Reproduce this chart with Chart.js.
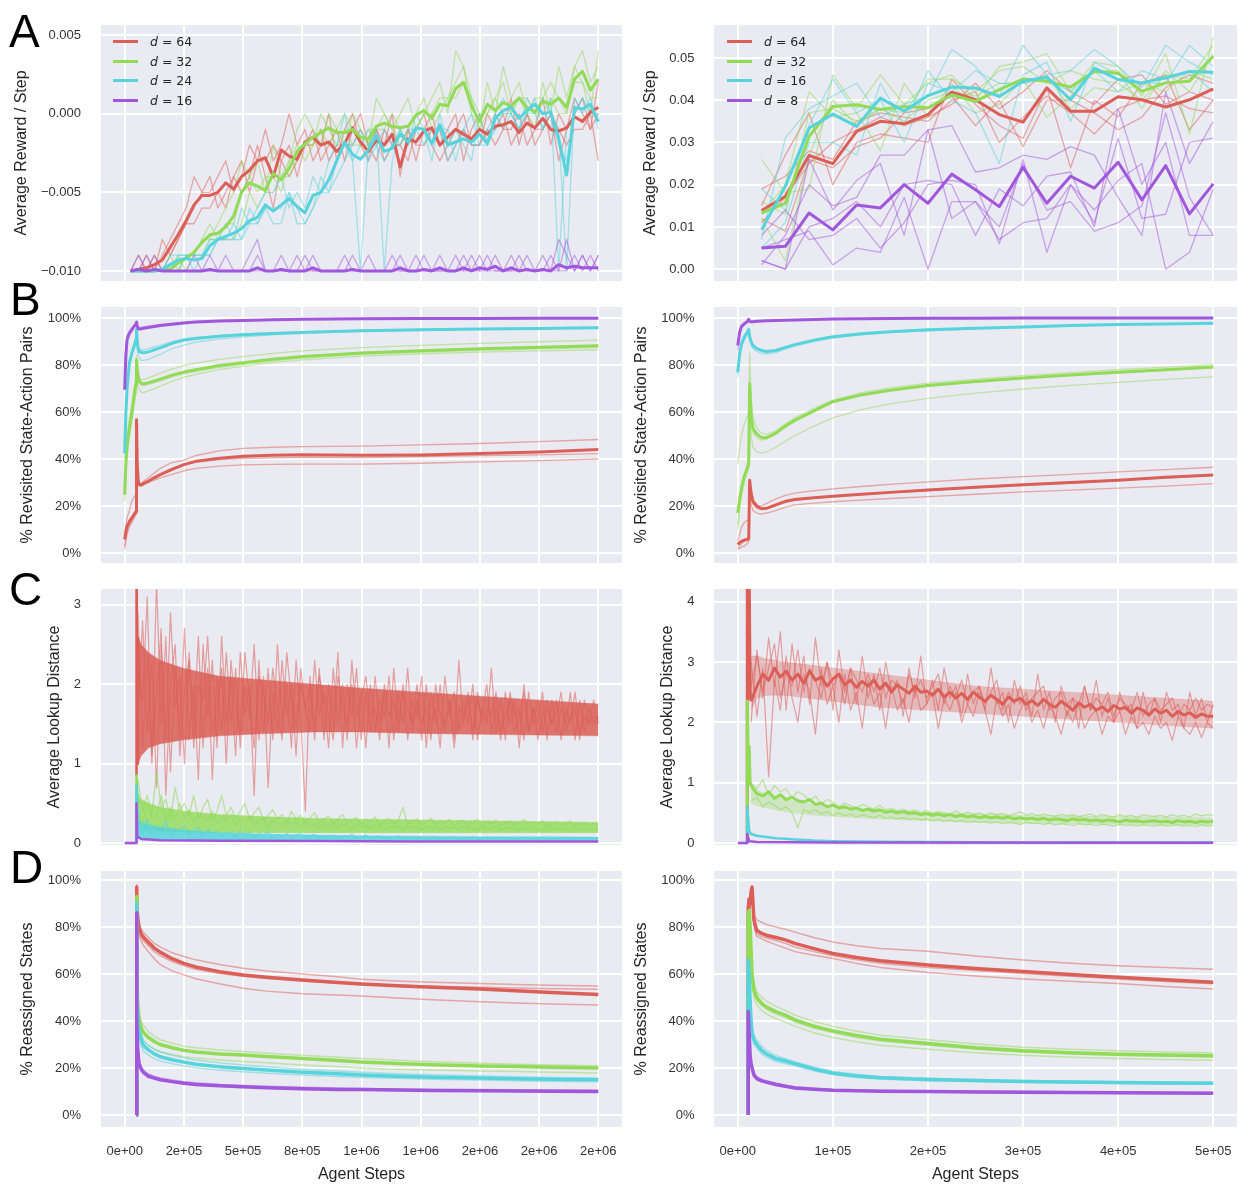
<!DOCTYPE html>
<html>
<head>
<meta charset="utf-8">
<script src="https://cdn.jsdelivr.net/npm/chart.js@4.4.0/dist/chart.umd.min.js"></script>
<style>
  body { margin: 0; background: #fff; }
  #fig { position: relative; width: 1239px; height: 1184px; overflow: hidden; font-family: 'Liberation Sans', Arial, sans-serif; }
  #fig canvas { position: absolute; }
  .letter { position: absolute; font-size: 46px; line-height: 46px; color: #000; z-index: 5; }
  .legend { position: absolute; font-family: 'DejaVu Sans', sans-serif; font-size: 12.5px; color: #262626; z-index: 5; }
  .legend div { position: relative; height: 19.6px; line-height: 19.6px; padding-left: 37px; white-space: nowrap; }
  .legend .sw { position: absolute; left: 0; top: 8.3px; width: 25px; height: 3px; }
</style>
</head>
<body>
<div id="fig">
  <div class="letter" style="left:9px;top:8px">A</div>
  <div class="letter" style="left:10px;top:276px">B</div>
  <div class="letter" style="left:9px;top:566px">C</div>
  <div class="letter" style="left:10px;top:844px">D</div>
  <div class="legend" id="legendL" style="left:113px;top:32px"></div>
  <div class="legend" id="legendR" style="left:727px;top:32px"></div>
</div>
<script>
const RED = '#db5f57', GREEN = '#91db57', CYAN = '#57d3db', PURPLE = '#a157db';

// legend labels
const dimsLeft  = [64, 32, 24, 16];
const dimsRight = [64, 32, 16, 8];

// tick values + labels
const xTicksLeft   = [0, 250000, 500000, 750000, 1000000, 1250000, 1500000, 1750000, 2000000];
const xLabelsLeft  = ['0e+00', '2e+05', '5e+05', '8e+05', '1e+06', '1e+06', '2e+06', '2e+06', '2e+06'];
const xTicksRight  = [0, 100000, 200000, 300000, 400000, 500000];
const xLabelsRight = ['0e+00', '1e+05', '2e+05', '3e+05', '4e+05', '5e+05'];
const yTicksRewL   = [-10, -5, 0, 5];            // thousandths
const yLabelsRewL  = ['\u22120.010', '\u22120.005', '0.000', '0.005'];
const yTicksRewR   = [0, 10, 20, 30, 40, 50];    // thousandths
const yLabelsRewR  = ['0.00', '0.01', '0.02', '0.03', '0.04', '0.05'];
const yTicksPct    = [0, 20, 40, 60, 80, 100];
const yLabelsPct   = ['0%', '20%', '40%', '60%', '80%', '100%'];
const yTicksDistL  = [0, 1, 2, 3];
const yLabelsDistL = ['0', '1', '2', '3'];
const yTicksDistR  = [0, 1, 2, 3, 4];
const yLabelsDistR = ['0', '1', '2', '3', '4'];

function linspace(a, b, n) { return Array.from({ length: n }, (_, i) => a + (b - a) * i / (n - 1)); }

// ---------- A left: average reward / step (x0.001), logged every ~33k steps
const aLeftSteps = linspace(25000, 2000000, 60);
const aLRed = [-10,-9.9,-9.8,-9.6,-9.3,-8.5,-7.7,-6.8,-5.8,-5.2,
  -5.2,-5.0,-4.4,-4.8,-4.0,-3.6,-3.0,-2.8,-4.0,-2.3,
  -2.7,-2.9,-1.8,-1.5,-2.0,-1.8,-2.4,-1.9,-0.9,-1.8,
  -2.4,-1.7,-2.0,-1.3,-3.4,-1.6,-1.8,-1.1,-0.9,-2.0,
  -1.5,-1.0,-1.3,-1.6,-1.0,-1.3,-0.8,-0.7,-0.5,-1.2,
  -0.6,-0.9,-0.3,-1.0,-1.1,-0.9,-0.2,-0.5,0.1,0.4];
const aLGreen = [-10,-10,-10,-10,-9.9,-9.9,-9.5,-9.2,-8.8,-8.2,
  -7.7,-7.6,-7.2,-6.5,-5.0,-4.4,-4.6,-4.9,-3.8,-4.2,
  -3.5,-2.4,-1.9,-1.5,-1.2,-0.9,-1.2,-1.2,-1.0,-1.5,
  -1.6,-0.8,-0.6,-0.8,-0.9,-0.8,-0.1,0.2,-0.3,0.6,
  0.5,1.6,2.0,0.5,-0.5,0.6,0.2,0.7,0.5,1.0,
  0.4,0.1,0.8,0.6,1.0,0.4,2.2,2.7,1.5,2.2];
const aLCyan = [-10,-10,-10,-10,-9.9,-9.6,-9.3,-9.2,-9.3,-9.2,
  -8.4,-8.0,-7.8,-7.6,-7.3,-6.8,-6.6,-5.8,-6.2,-5.8,
  -5.4,-5.9,-6.3,-5.2,-5.0,-4.2,-3.0,-1.8,-2.6,-2.9,
  -2.3,-1.4,-2.4,-2.2,-1.3,-1.8,-0.9,-1.0,-1.9,-0.7,
  -2.0,-1.8,-1.6,-1.8,-1.3,-1.9,-0.3,0.2,0.4,-0.3,
  0.2,0.6,0.0,0.1,-1.6,-3.9,0.4,0.3,0.6,-0.5];
const aLPurple = [-10,-9.9,-10,-9.9,-10,-10,-10,-10,-10,-10,
  -9.9,-10,-10,-10,-10,-10,-9.8,-10,-10,-9.9,
  -10,-10,-10,-9.8,-10,-10,-10,-10,-9.9,-10,
  -10,-10,-10,-10,-9.8,-10,-10,-9.9,-10,-9.8,
  -10,-10,-9.8,-10,-9.8,-9.9,-9.7,-10,-9.8,-10,
  -9.9,-10,-9.9,-10,-9.6,-9.8,-9.7,-9.8,-9.8,-9.8];
const aLRedRuns = [
  [-10,-10,-9,-10,-9,-8,-7,-6,-4,-5, -5,-4,-3,-5,-4,-2,-3,-1,-3,-2, 0,-2,-1,-3,-2,0,-3,-1,0,-2,
   -3,-1,-2,0,-4,-1,-3,-1,0,-2, -1,0,-3,-1,0,-2,0,-1,1,-2, 0,-1,1,-2,0,-1,0,1,-1,2],
  [-10,-9,-10,-10,-8,-9,-8,-7,-7,-6, -6,-5,-6,-4,-5,-4,-2,-4,-6,-3, -2,-4,-2,-1,-3,-2,-1,-3,-1,0,
   -2,-3,-1,-2,-2,-3,-1,0,-2,-3, -2,-1,0,-2,-2,0,-1,0,-2,-1, 0,-2,-1,0,-3,-1,1,0,-1,0],
  [-10,-10,-10,-9,-10,-9,-8,-7,-6,-5, -4,-6,-5,-4,-3,-5,-3,-3,-2,-3, -4,-3,-2,-2,-1,-3,-2,-2,-2,-1,
   -2,-1,-3,-2,-2,-1,-2,-2,-1,-1, -3,-2,-1,-2,-2,-1,-2,-1,-1,0, -2,-1,-1,0,-1,-2,-1,-1,0,-3]];
const aLGreenRuns = [
  [-10,-10,-10,-10,-10,-10,-9,-10,-9,-8, -8,-7,-6,-5,-3,-4,-3,-5,-2,-4, -3,-1,0,-1,-2,0,-1,-2,0,-1,
   -2,1,0,-1,0,1,-1,0,1,2, 0,4,3,0,-1,2,0,3,1,2, 0,-1,2,0,3,1,3,4,2,3],
  [-10,-10,-10,-10,-10,-9,-10,-9,-9,-9, -8,-8,-8,-8,-7,-5,-6,-5,-5,-4, -4,-3,-2,-2,0,-1,-2,-1,-2,-2,
   -1,-1,0,-1,-2,-1,0,1,-1,0, 1,1,2,1,0,0,1,0,0,1, 1,0,0,1,0,0,2,2,1,1],
  [-10,-10,-10,-10,-10,-10,-10,-9,-9,-8, -7,-8,-7,-7,-5,-4,-5,-4,-4,-5, -3,-2,-3,-2,-1,-2,-1,0,-1,-2,
   -2,-1,-1,0,-1,-2,-1,0,0,1, 1,2,3,1,-1,0,1,2,0,1, 0,1,1,2,1,0,3,2,0,4]];
const aLCyanRuns = [
  [-10,-10,-10,-10,-10,-9,-9,-9,-10,-9, -8,-8,-7,-8,-6,-7,-6,-5,-5,-4, -6,-5,-6,-4,-5,-3,-2,0,-3,-10,
   -2,-1,-10,-3,-1,-2,0,-1,-3,0, -2,-1,-2,-3,0,-2,0,1,0,-1, 1,0,1,0,-1,-10,1,0,1,-1],
  [-10,-10,-10,-10,-10,-10,-9,-9,-9,-9, -9,-8,-8,-8,-8,-6,-7,-6,-7,-7, -5,-7,-7,-6,-4,-5,-4,-3,-2,-1,
   -3,-2,-1,-2,-2,-1,-1,-2,-1,-1, -3,-2,-1,0,-2,-2,-1,0,0,-1, 0,1,-1,0,-2,-3,0,1,0,0],
  [-10,-10,-10,-10,-10,-10,-10,-9,-9,-9, -9,-8,-8,-7,-8,-7,-7,-6,-6,-6, -5,-6,-7,-6,-5,-5,-3,-2,-3,-2,
   -1,-2,-3,-2,-1,-2,-1,-1,-2,-1, -1,-3,-1,-2,-2,-1,0,-1,0,-1, 0,0,-1,1,-10,-1,0,1,0,0]];
const aLPurpleRuns = [
  [-10,-9,-10,-9,-10,-10,-10,-10,-10,-10, -9,-10,-10,-10,-10,-10,-9,-10,-10,-10, -10,-10,-10,-9,-10,-10,-10,-10,-9,-10,
   -10,-10,-10,-10,-9,-10,-10,-10,-10,-9, -10,-10,-9,-10,-10,-9,-10,-10,-9,-10, -10,-10,-9,-10,-8,-9,-10,-9,-10,-9],
  [-10,-10,-9,-10,-10,-10,-10,-10,-9,-10, -10,-10,-10,-10,-10,-9,-8,-10,-10,-9, -10,-10,-9,-10,-10,-10,-10,-10,-10,-10,
   -9,-10,-10,-10,-10,-10,-10,-9,-10,-10, -10,-10,-10,-9,-10,-10,-9,-10,-10,-10, -9,-10,-10,-9,-10,-10,-9,-10,-9,-10],
  [-10,-10,-10,-10,-10,-10,-10,-10,-10,-10, -10,-10,-9,-10,-10,-10,-10,-10,-10,-10, -10,-9,-10,-10,-10,-10,-10,-9,-10,-10,
   -10,-10,-10,-9,-10,-10,-9,-10,-10,-10, -10,-9,-10,-10,-9,-10,-10,-10,-10,-9, -10,-10,-10,-10,-10,-8,-10,-9,-10,-9]];

// ---------- A right: average reward / step (x0.001), every 25k steps
const aRightSteps = linspace(25000, 500000, 20);
const aRRed    = [13.9,17.2,26.9,25.0,32.6,35.0,34.4,36.6,41.9,40.1, 36.6,34.8,42.9,37.4,37.4,40.8,40.1,38.4,40.1,42.7];
const aRGreen  = [13.3,15.6,31.4,38.5,38.9,37.8,38.5,38.2,41.3,39.7, 42.5,45.0,44.5,43.1,46.8,46.4,42.1,44.1,44.5,50.4];
const aRCyan   = [9.3,19.6,33.4,36.7,33.8,40.5,37.4,41.1,43.1,42.9, 40.9,44.5,45.5,40.1,47.6,44.9,44.1,45.3,46.8,46.6];
const aRPurple = [5.0,5.4,13.3,9.3,15.2,14.5,20.0,15.6,22.5,18.8, 14.8,24.1,15.6,22.0,19.2,25.3,16.4,24.5,13.1,20.2];
const aRRedRuns = [
  [15,27,37,20,30,32,31,30,45,39, 34,31,43,24,40,36,44,46,33,40],
  [19,22,28,26,35,37,36,35,40,42, 30,36,41,37,32,38,40,41,38,37],
  [12,9,26,24,29,31,37,38,41,34, 40,29,40,40,37,33,36,43,46,44],
  [11,17,25,30,33,36,34,36,39,44, 38,42,47,42,39,45,46,39,42,40]];
const aRGreenRuns = [
  [26,18,19,46,38,46,39,44,46,40, 48,49,51,42,49,48,41,51,32,55],
  [12,2,27,40,34,38,37,45,45,42, 47,48,44,47,45,44,40,46,45,53],
  [13,20,42,36,37,28,44,36,44,37, 39,45,36,41,47,47,38,47,42,51],
  [16,13,37,38,35,38,35,40,42,41, 44,44,46,38,43,42,44,42,47,45]];
const aRCyanRuns = [
  [7,31,38,41,44,36,39,41,52,48, 41,53,46,47,52,48,43,53,49,46],
  [5,11,30,30,27,44,34,47,40,37, 25,46,49,35,49,46,44,44,53,48],
  [19,14,34,45,37,40,30,44,42,47, 44,44,45,42,47,42,47,45,47,42]];
const aRPurpleRuns = [
  [2,0,26,14,21,25,8,33,34,23, 24,27,26,29,27,17,8,42,25,35],
  [8,14,7,8,12,5,11,20,21,20, 6,26,4,20,14,21,25,0,4,19],
  [1,8,20,15,17,27,27,33,12,16, 10,25,14,16,9,11,15,37,17,8],
  [5,7,9,1,5,4,17,0,16,16, 7,11,12,20,11,31,12,13,30,31],
  [2,0,10,12,16,10,20,21,20,8, 19,15,22,23,10,38,20,30,8,8]];

// ---------- B left: % revisited state-action pairs
const bLeftSteps = [0,5000,10000,20000,30000,40000,48000,50000,53000,57000,62000,70000,80000,100000,
  125000,150000,200000,250000,300000,400000,500000,625000,750000,1000000,1250000,1500000,1750000,2000000];
const bLRed    = [5.7,9,11.3,13.5,14.9,16.5,17.7,56.7,38,31,29,29,29.6,30.5,32,33.3,35.6,37.6,39,40.3,41.2,41.6,41.8,41.6,41.7,42.3,43,44];
const bLGreen  = [24.8,38,45.4,53,59.6,67,72,82.3,78,75,73.2,72.2,72,72.4,73.2,74,75.7,77,78,79.8,81,82.5,83.6,85.1,86.1,86.9,87.6,88.2];
const bLCyan   = [42.5,59.6,70,80.9,85,88,91,95,90,87,85.8,85.3,85.2,85.6,86.5,87.3,89.2,90.6,91.3,92.2,92.9,93.4,93.9,94.6,95,95.3,95.6,95.9];
const bLPurple = [69.5,84,90.8,93.5,95,96.5,97.5,98.3,96.5,95.5,95.3,95.4,95.6,96,96.4,96.8,97.4,97.9,98.3,98.7,99,99.3,99.5,99.7,99.8,99.85,99.9,99.9];
const bLRedRuns = [
  [3,7,10,12,14,15.5,17,50,35,30.5,29,29.5,30.5,32,34,36,38.5,39.5,41.5,43.5,44.5,45,45.3,45.5,46,46.6,47.4,48.3],
  [1.5,5,8,11,13,15,16.5,45,33,29.5,28.5,28.5,29,30,31,32,33.5,35,36,37,37.5,37.7,37.8,37.8,38.2,38.8,39.3,40],
  [8,12,15,18,22,24,25,55,36,30,29,29.3,30,31,32.5,33.8,36,37.5,38.7,39.8,40.2,40.5,40.7,40.6,41,41.4,41.8,42.3]];
const bLGreenRuns = [
  [22,33,42,50,56,63,68,79,74,71,69.5,68.5,68.3,69,70,71,73,74.8,76,78,79.5,81,82.2,83.8,84.8,85.5,86,86.5],
  [28,42,50,57,63,70,75,84,79,76,74.5,73.8,73.8,74.5,75.5,76.5,78.3,79.8,80.8,82.4,83.6,85,86,87.4,88.4,89.2,89.9,90.6],
  [25,36,44,52,58,66,71,81,77,74,72.5,71.5,71.2,71.7,72.5,73.3,75,76.2,77.3,79,80.3,81.8,83,84.5,85.5,86.3,86.9,87.5]];
const bLCyanRuns = [
  [40,55,68,80,84,87,90,93,87,84,83,82,82,82.5,83.5,84.5,87,88.5,89.8,91,92,92.8,93.4,94.3,94.8,95.2,95.5,95.8],
  [45,62,72,82,86,89,92,96,91,88,87,86.5,86.5,87,87.8,88.4,90,91.2,91.8,92.6,93.2,93.7,94.2,94.8,95.2,95.5,95.8,96.1]];
const bLPurpleRuns = [
  [75,88,92.5,94.5,95.8,97,97.8,98.5,97,96.2,96,96.1,96.3,96.6,96.9,97.2,97.7,98.1,98.5,98.9,99.1,99.4,99.6,99.75,99.85,99.9,99.9,99.95]];

// ---------- B right
const bRightSteps = [0,2000,4000,7000,10000,11500,12500,14000,16000,20000,25000,30000,40000,50000,60000,80000,
  100000,130000,160000,200000,250000,300000,350000,400000,450000,500000];
const bRRed    = [3.6,4.5,5,5.5,5.7,6,31,25.6,22,20,18.8,19,20.5,22,22.8,23.5,24.2,25,25.8,26.8,28,29,30,31,32.2,33.2];
const bRGreen  = [17,23,28,33,36,38,72,58,53,50.6,49.1,49,51,54,56.5,60.5,64.5,67.3,69.3,71.3,73,74.5,75.8,76.9,78,79.2];
const bRCyan   = [76.9,85,89,92,94,95.2,92,90,88.3,87,86.2,85.8,86.2,87.5,88.7,90.6,92,93.3,94.2,95,95.7,96.2,96.8,97.2,97.5,97.8];
const bRPurple = [88.3,94,96.5,97.6,98.5,99.4,98.6,98.4,98.4,98.6,98.7,98.8,99,99.1,99.2,99.4,99.6,99.7,99.8,99.9,99.95,100,100,100,100,100];
const bRRedRuns = [
  [2,3,4,5,6,7,28,24,21,20,20,21,23,24.5,25.5,26.5,27.3,28.3,29.2,30.3,31.5,32.5,33.5,34.5,35.5,36.5],
  [1.5,2,2.5,3,4,5,25,21,18,17,16.5,17,18,19.5,20.5,21.2,21.8,22.5,23.2,24,25,26,26.8,27.6,28.5,29.5],
  [5,8,11,13,14,14,30,24,21,19,18.5,18.8,20,21.5,22.5,23.3,24,24.8,25.6,26.6,27.8,28.8,29.8,30.8,32,33]];
const bRGreenRuns = [
  [10,20,26,33,38,42,60,50,45,43,42.5,43,45,47.5,50,54,57.5,61,63.5,65.8,68,69.8,71.3,72.6,73.9,75],
  [38,45,50,55,58,60,85,66,58,53,51,50.5,52,55,57.5,61.5,65,68.3,70.3,72.3,74,75.5,76.8,78,79.1,80.2],
  [12,20,25,30,34,36,70,56,51,49,48,48.5,50.5,53.5,56,60,64,67,69,71,72.8,74.3,75.6,76.7,77.8,78.8]];
const bRCyanRuns = [
  [75,84,88,91,93,94,91,88.5,87,85.8,85,84.8,85.3,86.8,88,90,91.5,92.8,93.8,94.6,95.4,96,96.6,97,97.4,97.7]];
const bRPurpleRuns = [
  [86,93,96,97.2,98.2,99,98.3,98.2,98.2,98.4,98.5,98.7,98.9,99,99.1,99.3,99.5,99.6,99.7,99.8,99.9,99.95,100,100,100,100]];

// ---------- C left: average lookup distance
const cLeftBandSteps = [56000,70000,100000,150000,250000,400000,600000,800000,1000000,1250000,1500000,1750000,2000000];
const cLRedHi    = [2.6,2.5,2.4,2.3,2.2,2.1,2.05,2.0,1.95,1.9,1.85,1.8,1.75];
const cLRedLo    = [1.0,1.1,1.2,1.25,1.3,1.35,1.38,1.4,1.4,1.38,1.37,1.36,1.35];
const cLGreenHi  = [0.6,0.55,0.5,0.45,0.4,0.36,0.33,0.31,0.3,0.29,0.28,0.27,0.26];
const cLGreenLo  = [0.18,0.17,0.16,0.15,0.14,0.13,0.13,0.13,0.13,0.13,0.13,0.13,0.13];
const cLCyanHi   = [0.3,0.26,0.23,0.2,0.16,0.13,0.11,0.1,0.09,0.085,0.08,0.08,0.075];
const cLCyanLo   = [0.06,0.05,0.05,0.04,0.04,0.03,0.03,0.03,0.03,0.03,0.03,0.03,0.03];
const cLeftSpikeSteps = [50000,50000,53000,56000];
const cLRedSpike   = [0.85,4.5,1.0,2.6];
const cLGreenSpike = [0,0.85,0.6,0.5];
const cLCyanSpike  = [0,0.72,0.4,0.3];
const cLPurpleSteps = [0,50000,50000,53000,70000,150000,400000,800000,1200000,1600000,2000000];
const cLPurple      = [0,0,0.5,0.08,0.05,0.035,0.03,0.025,0.02,0.02,0.02];
const cLeftSteps = linspace(56000, 2000000, 100);
const cLRedRuns = [
  [2.9,1.2,2.4,1.0,3.3,1.5,2.6,0.9,2.2,1.4, 2.7,1.3,2.0,0.8,2.5,1.6,2.3,1.2,2.6,1.5,
   2.1,1.1,2.4,1.6,2.0,0.6,2.3,1.4,2.2,1.3, 2.5,1.5,2.0,1.2,2.3,1.6,0.4,2.1,1.4,2.2,
   1.3,2.0,1.5,2.4,1.2,2.0,1.6,2.2,1.3,1.9, 1.4,2.1,1.5,1.9,1.2,2.2,1.5,2.0,1.3,1.8,
   1.6,2.1,1.2,1.9,1.5,2.0,1.4,1.8,1.3,2.3, 1.5,1.9,1.3,1.8,1.6,2.0,1.4,1.7,1.3,1.9,
   1.5,1.8,1.2,2.0,1.4,1.7,1.5,1.9,1.3,1.8, 1.4,1.7,1.5,1.9,1.3,1.8,1.4,1.7,1.5,1.6],
  [1.6,2.8,1.4,2.3,0.7,2.5,1.3,2.9,1.7,2.1, 1.0,2.4,1.5,2.6,1.2,2.2,0.8,2.1,1.4,2.4,
   1.5,2.2,1.2,2.0,1.6,2.5,1.3,2.1,0.7,1.9, 1.4,2.3,1.6,2.0,1.1,2.2,1.7,2.0,1.3,2.1,
   1.8,1.2,2.2,1.5,2.0,1.3,2.3,1.6,1.9,1.2, 2.0,1.4,1.8,1.6,2.1,1.3,1.9,1.5,2.2,1.4,
   1.8,1.3,2.0,1.5,1.7,1.2,2.1,1.6,1.9,1.4, 1.8,1.5,2.0,1.3,1.7,1.5,2.2,1.4,1.8,1.3,
   1.9,1.6,1.7,1.3,1.9,1.5,1.8,1.4,1.7,1.5, 1.8,1.3,1.7,1.5,1.9,1.4,1.6,1.5,1.8,1.5],
  [2.2,1.8,3.1,1.1,1.9,2.7,0.6,2.0,2.5,1.1, 1.9,2.3,1.2,2.0,1.8,2.6,1.4,1.7,2.2,1.0,
   2.3,1.7,1.4,2.4,1.8,1.2,2.1,1.9,1.5,2.2, 1.7,1.3,2.4,1.8,1.5,2.0,1.7,1.4,2.3,1.6,
   1.9,1.6,1.3,2.1,1.7,1.5,2.0,1.2,1.8,2.1, 1.6,1.7,1.3,2.0,1.6,1.8,1.4,1.9,1.7,1.5,
   2.0,1.5,1.7,1.3,2.0,1.6,1.5,1.8,1.2,1.7, 1.6,1.8,1.4,1.9,1.5,1.7,1.6,1.9,1.4,1.6,
   1.8,1.4,1.6,1.9,1.4,1.7,1.3,1.6,1.8,1.5, 1.6,1.9,1.4,1.6,1.7,1.3,1.8,1.5,1.6,1.55]];
const cLGreenRuns = [
  [0.8,0.4,0.6,0.35,0.9,0.45,0.55,0.3,0.7,0.4, 0.5,0.35,0.6,0.3,0.45,0.55,0.3,0.4,0.6,0.35,
   0.45,0.3,0.4,0.5,0.3,0.38,0.45,0.28,0.35,0.42, 0.3,0.36,0.25,0.4,0.3,0.35,0.26,0.32,0.38,0.25,
   0.3,0.34,0.24,0.3,0.36,0.25,0.29,0.32,0.23,0.3, 0.27,0.33,0.22,0.28,0.31,0.24,0.29,0.45,0.23,0.28,
   0.3,0.22,0.27,0.31,0.23,0.28,0.25,0.3,0.22,0.27, 0.29,0.21,0.26,0.3,0.22,0.27,0.24,0.29,0.21,0.26,
   0.28,0.22,0.25,0.3,0.21,0.26,0.24,0.28,0.2,0.25, 0.27,0.21,0.25,0.28,0.2,0.24,0.26,0.22,0.25,0.22],
  [0.4,0.25,0.5,0.3,0.35,0.6,0.28,0.45,0.3,0.5, 0.3,0.42,0.25,0.38,0.32,0.28,0.4,0.25,0.33,0.28,
   0.36,0.22,0.3,0.27,0.34,0.22,0.29,0.31,0.2,0.28, 0.25,0.2,0.29,0.23,0.26,0.19,0.27,0.22,0.25,0.19,
   0.24,0.2,0.26,0.18,0.23,0.21,0.17,0.24,0.2,0.22, 0.18,0.23,0.2,0.17,0.22,0.19,0.21,0.17,0.22,0.19,
   0.2,0.17,0.22,0.18,0.2,0.17,0.21,0.18,0.2,0.16, 0.21,0.18,0.19,0.16,0.2,0.18,0.17,0.21,0.16,0.19,
   0.18,0.2,0.16,0.19,0.17,0.2,0.16,0.18,0.19,0.16, 0.19,0.17,0.18,0.16,0.19,0.17,0.18,0.16,0.18,0.17]];
const cLCyanRuns = [
  [0.25,0.12,0.3,0.1,0.2,0.15,0.28,0.09,0.18,0.14, 0.22,0.1,0.16,0.2,0.08,0.17,0.12,0.15,0.09,0.14,
   0.12,0.08,0.15,0.1,0.13,0.07,0.12,0.1,0.14,0.07, 0.11,0.08,0.12,0.07,0.1,0.12,0.06,0.09,0.11,0.06,
   0.09,0.07,0.1,0.06,0.09,0.08,0.11,0.06,0.08,0.1, 0.06,0.08,0.09,0.05,0.08,0.07,0.09,0.05,0.08,0.07,
   0.06,0.08,0.05,0.07,0.08,0.05,0.07,0.06,0.08,0.05, 0.07,0.06,0.08,0.05,0.06,0.07,0.05,0.07,0.06,0.05,
   0.07,0.05,0.06,0.07,0.05,0.06,0.05,0.07,0.05,0.06, 0.05,0.07,0.05,0.06,0.05,0.06,0.05,0.07,0.05,0.06]];

// ---------- C right
const cRightBandSteps = [14000,20000,30000,50000,75000,100000,150000,200000,250000,300000,350000,400000,450000,500000];
const cRRedHi   = [3.1,3.1,3.05,3.0,2.95,2.9,2.8,2.7,2.6,2.55,2.5,2.45,2.4,2.35];
const cRRedLo   = [2.2,2.4,2.45,2.45,2.4,2.35,2.25,2.2,2.15,2.1,2.05,2.0,1.95,1.9];
const cRGreenHi = [0.95,0.88,0.8,0.72,0.65,0.6,0.54,0.5,0.48,0.46,0.45,0.44,0.43,0.42];
const cRGreenLo = [0.65,0.62,0.58,0.52,0.47,0.44,0.4,0.37,0.35,0.33,0.32,0.31,0.3,0.3];
const cRightSpikeSteps = [10000,10000,11000,12000,13000,14000];
const cRRedSpike   = [0,4.6,2.4,4.6,2.5,2.35];
const cRGreenSpike = [0,2.35,1.3,1.6,1.0,0.95];
const cRCyanSteps = [10000,10000,12000,14000,20000,30000,40000,50000,60000,80000,100000,150000,200000,300000,400000,500000];
const cRCyan      = [0,0.6,0.2,0.15,0.12,0.1,0.08,0.07,0.06,0.04,0.03,0.02,0.015,0.01,0.01,0.01];
const cRPurpleSteps = [0,10000,10000,12000,20000,100000,500000];
const cRPurple      = [0,0,0.15,0.03,0.015,0.008,0.005];
const cRightSteps = linspace(14000, 500000, 80);
const cRRed = [2.35,2.6,2.8,2.7,2.9,2.75,2.85,2.7,2.8,2.65, 2.85,2.7,2.75,2.6,2.72,2.8,2.62,2.7,2.58,2.68,
  2.6,2.7,2.55,2.65,2.5,2.62,2.55,2.48,2.6,2.5, 2.52,2.45,2.55,2.42,2.5,2.4,2.48,2.38,2.5,2.42,
  2.35,2.45,2.38,2.3,2.42,2.35,2.4,2.3,2.36,2.28, 2.38,2.3,2.25,2.35,2.28,2.2,2.32,2.25,2.3,2.2,
  2.26,2.18,2.28,2.22,2.25,2.15,2.24,2.2,2.12,2.22, 2.15,2.2,2.1,2.18,2.12,2.16,2.08,2.14,2.1,2.1];
const cRGreen = [0.95,0.82,0.78,0.85,0.74,0.8,0.72,0.76,0.7,0.68, 0.72,0.64,0.66,0.6,0.63,0.58,0.6,0.56,0.58,0.54,
  0.56,0.53,0.55,0.51,0.53,0.5,0.52,0.49,0.5,0.47, 0.49,0.46,0.48,0.45,0.47,0.44,0.46,0.43,0.45,0.42,
  0.44,0.42,0.43,0.41,0.43,0.4,0.42,0.4,0.41,0.39, 0.41,0.38,0.4,0.39,0.37,0.4,0.38,0.39,0.37,0.38,
  0.36,0.38,0.37,0.35,0.38,0.36,0.37,0.35,0.36,0.37, 0.35,0.36,0.34,0.37,0.35,0.36,0.34,0.36,0.35,0.36];
const cRRedRuns = [
  [2.0,3.2,2.4,3.4,2.6,3.5,2.2,3.3,2.5,3.1, 2.3,3.4,2.6,3.0,2.2,3.2,2.5,2.9,2.3,3.1,
   2.4,2.8,2.2,3.0,2.5,2.7,2.1,2.9,2.4,3.1, 2.3,2.7,2.2,2.9,2.4,2.6,2.1,2.8,2.3,2.6,
   2.2,2.9,2.3,2.5,2.0,2.7,2.3,2.5,2.1,2.8, 2.2,2.5,2.0,2.6,2.3,2.4,1.9,2.6,2.2,2.7,
   2.1,2.4,2.0,2.5,2.2,2.3,1.9,2.5,2.1,2.4, 2.0,2.5,2.2,2.3,1.9,2.5,2.1,2.4,2.0,2.3],
  [3.0,2.1,2.9,1.1,2.7,2.2,3.1,2.4,2.0,2.8, 2.5,1.8,2.9,2.3,2.6,2.0,2.8,2.2,2.5,1.9,
   2.7,2.3,2.5,1.9,2.6,2.2,2.4,2.0,2.6,2.2, 2.3,2.5,1.9,2.4,2.2,2.5,2.0,2.3,2.1,2.5,
   2.2,1.8,2.4,2.1,2.3,1.9,2.2,2.4,2.0,2.2, 1.9,2.3,2.1,1.8,2.2,2.0,2.3,1.9,2.1,2.2,
   1.8,2.1,2.0,2.2,1.8,2.1,1.9,2.0,1.8,2.1, 1.9,2.0,1.7,2.1,1.9,1.8,2.0,1.75,2.0,1.9],
  [2.6,3.1,2.5,2.9,3.3,2.4,2.8,2.6,3.2,2.5, 2.9,2.7,2.4,3.0,2.6,2.8,2.3,2.9,2.7,2.5,
   2.8,2.5,2.9,2.4,2.7,2.6,2.3,2.8,2.5,2.7, 2.4,2.6,2.8,2.3,2.6,2.4,2.7,2.3,2.5,2.6,
   2.3,2.5,2.7,2.2,2.5,2.3,2.6,2.2,2.4,2.5, 2.6,2.2,2.4,2.5,2.1,2.4,2.3,2.6,2.2,2.4,
   2.3,2.5,2.1,2.4,2.3,2.2,2.5,2.1,2.3,2.4, 2.2,2.3,2.4,2.1,2.3,2.2,2.4,2.2,2.3,2.25]];
const cRGreenRuns = [
  [1.0,0.9,1.05,0.8,0.95,0.85,0.9,0.75,0.85,0.8, 0.7,0.78,0.65,0.72,0.68,0.6,0.66,0.62,0.58,0.64,
   0.6,0.56,0.62,0.55,0.58,0.53,0.56,0.52,0.55,0.5, 0.54,0.49,0.52,0.5,0.48,0.53,0.47,0.51,0.48,0.5,
   0.46,0.5,0.47,0.49,0.45,0.48,0.52,0.46,0.49,0.45, 0.48,0.46,0.44,0.48,0.45,0.47,0.43,0.46,0.48,0.44,
   0.47,0.45,0.43,0.47,0.44,0.46,0.42,0.47,0.45,0.44, 0.46,0.43,0.47,0.44,0.46,0.43,0.48,0.45,0.47,0.46],
  [0.7,0.75,0.6,0.68,0.62,0.55,0.6,0.5,0.25,0.55, 0.5,0.55,0.48,0.52,0.46,0.5,0.45,0.48,0.43,0.47,
   0.44,0.42,0.46,0.41,0.43,0.4,0.42,0.39,0.41,0.38, 0.4,0.37,0.39,0.36,0.38,0.35,0.37,0.34,0.36,0.34,
   0.35,0.33,0.35,0.32,0.34,0.33,0.31,0.34,0.32,0.33, 0.31,0.33,0.3,0.32,0.31,0.29,0.32,0.3,0.31,0.29,
   0.31,0.3,0.28,0.31,0.29,0.3,0.28,0.3,0.29,0.28, 0.3,0.28,0.29,0.3,0.28,0.29,0.27,0.3,0.28,0.29]];

// ---------- D left: % reassigned states
const dLeftSteps = [50000,50000,52000,55000,60000,70000,80000,100000,125000,150000,200000,250000,300000,
  400000,500000,600000,750000,900000,1000000,1150000,1300000,1500000,1650000,1800000,2000000];
const dLRed    = [0,97,90,84,80,77,75.5,73.5,71,69.3,66.5,64.5,63,61,59.6,58.6,57.4,56.4,55.7,55,54.3,53.6,52.9,52.1,51.3];
const dLGreen  = [0,93,60,47,41,37,35,33,31.3,30,28.6,27.5,26.8,26,25.5,24.9,24,23.2,22.5,21.9,21.4,20.9,20.6,20.3,20];
const dLCyan   = [0,90,55,42,36,32,29.5,27.7,26,24.8,23.5,22.5,21.6,20.5,19.8,19.1,18.2,17.5,17,16.5,16.1,15.7,15.4,15.2,15];
const dLPurple = [0,86,40,28,22,19.5,18,16.5,15.7,15,14.2,13.5,13,12.4,12,11.6,11.2,10.9,10.8,10.6,10.4,10.3,10.2,10.1,10];
const dLRedRuns = [
  [0,98,92,86,82,79,77.5,75.5,73,71.5,69,67.4,66,64,62.4,61.3,60,58.8,57.7,57,56.5,55.9,55.5,55.2,54.9],
  [0,96,88,82,77,74,72,69.5,66.5,64,61.3,59.6,58,55.8,53.9,52.7,51.6,51,50.6,49.8,49,48.2,47.6,47.2,46.8],
  [0,95,89,83,79,76,74,72,69.5,67.8,65.3,63.5,62,60.2,59,58.1,57,56.2,55.6,55.2,54.8,54.4,54,53.7,53.5]];
const dLGreenRuns = [
  [0,92,62,50,44,40,38,35.5,33.5,32,30.5,29.3,28.6,27.7,27,26.3,25.4,24.6,24,23.3,22.7,22,21.6,21.3,21],
  [0,90,55,43,37,33.5,31.5,29.5,28,27,25.7,24.8,24.2,23.4,22.8,22.2,21.3,20.5,20,19.5,19.1,18.7,18.5,18.2,17.9]];
const dLCyanRuns = [
  [0,89,58,45,38.5,34.5,31.5,29.7,28,26.8,25.4,24.3,23.4,22.2,21.3,20.5,19.5,18.7,18.2,17.6,17.1,16.6,16.3,16,15.7],
  [0,88,50,39,33,29.5,27.2,25.5,24,23,21.8,20.9,20.1,19.1,18.4,17.8,17,16.4,16,15.6,15.2,14.9,14.6,14.4,14.2]];
const dLPurpleRuns = [
  [0,85,42,30,23.5,20.5,19,17.5,16.5,15.8,14.9,14.2,13.7,13,12.6,12.2,11.8,11.5,11.3,11.1,10.9,10.8,10.7,10.6,10.5]];

// ---------- D right
const dRightSteps = [11000,11000,12000,13000,14000,15000,17000,20000,25000,30000,40000,50000,60000,80000,
  100000,125000,150000,200000,250000,300000,350000,400000,450000,500000];
const dRRed    = [0,88,92,90,95,97,83,78.5,77.3,76.5,75.5,74.5,73,70.8,68.7,67,65.6,63.8,62.3,61,59.8,58.6,57.5,56.5];
const dRGreen  = [0,86,87,80,70,60,53,50,47.5,46,44,42.5,40.5,37.8,35.8,33.8,32.2,30.4,28.6,27.3,26.5,25.9,25.5,25.2];
const dRCyan   = [0,66,60,48,40,35,32,30,27.5,26,24,23,21.8,19.6,17.8,16.6,15.8,15.1,14.7,14.3,14,13.8,13.6,13.5];
const dRPurple = [0,44,35,25,22,20,17,15.5,14.5,14,13,12.2,11.5,11,10.5,10.3,10.1,10,9.8,9.7,9.6,9.5,9.4,9.3];
const dRRedRuns = [
  [0,85,90,88,92,94,85,83,82,81,80,79,77.8,75.5,73.6,72,70.8,69.7,67.6,65.9,64.6,63.5,62.7,62],
  [0,86,89,88,91,93,80,76,75,74,72.5,71,69.5,68,66.6,64.5,62.8,60.6,59.1,57.9,56.9,55.9,54.7,53.6],
  [0,87,91,89,93,95,82,77,76,75.3,74.2,73,71.5,69.5,67.7,66,64.6,62.8,61.5,60.2,59,57.9,56.8,55.8]];
const dRGreenRuns = [
  [0,85,86,82,72,62,56,52.5,50,48.5,46.2,44.5,42.5,39.8,37.7,35.6,33.9,32,30.2,28.8,28,27.3,26.8,26.4],
  [0,84,85,78,67,57,50,47,44.5,43,41,39.5,37.8,35,33,31.2,29.7,28,26.5,25.4,24.6,24,23.6,23.3],
  [0,86,86,79,69,59,52,49,46.5,45,43,41.5,39.6,36.9,35,33,31.5,29.7,28,26.8,26,25.4,25,24.7]];
const dRCyanRuns = [
  [0,64,58,50,42,37,34,32,29.3,27.6,25.3,24,22.7,20.4,18.5,17.3,16.4,15.6,15.1,14.7,14.4,14.2,14,13.9],
  [0,65,57,46,38,33,30,28.5,26,24.6,22.8,21.9,20.9,18.8,17.2,16,15.3,14.6,14.3,13.9,13.6,13.4,13.2,13.1]];
const dRPurpleRuns = [
  [0,43,36,27,23.5,21,18,16.3,15.2,14.6,13.6,12.7,12,11.4,10.9,10.6,10.4,10.2,10.1,10,9.9,9.8,9.7,9.6]];

// ---------- helpers
function rgba(hex, a) {
  const n = parseInt(hex.slice(1), 16);
  return `rgba(${n >> 16},${(n >> 8) & 255},${n & 255},${a})`;
}
const pts = (xs, ys) => xs.map((x, i) => ({ x, y: ys[i] }));
const mean = (xs, ys, c, w = 3) => ({ data: pts(xs, ys), borderColor: c, borderWidth: w });
const run  = (xs, ys, c, a = 0.5, w = 1.3) => ({ data: pts(xs, ys), borderColor: rgba(c, a), borderWidth: w });
const band = (xs, hi, lo, c, a) => [
  { data: pts(xs, hi), borderColor: rgba(c, a * 0.6), borderWidth: 0.8 },
  { data: pts(xs, lo), borderColor: rgba(c, a * 0.6), borderWidth: 0.8, fill: '-1', backgroundColor: rgba(c, a) }
];
const runs = (xs, list, c, a, w) => list.map(ys => run(xs, ys, c, a, w));

const plotBg = {
  id: 'plotBg',
  beforeDraw(chart) {
    const { ctx, chartArea: { left, top, width, height } } = chart;
    ctx.save();
    ctx.fillStyle = '#eaeaf2';
    ctx.fillRect(left, top, width, height);
    ctx.restore();
  }
};

Chart.defaults.font.family = "'Liberation Sans', Arial, sans-serif";
Chart.defaults.font.size = 13;
Chart.defaults.color = '#333';

const PLOT_H = 256;   // plot box height (px) of every panel
const SPARE  = 14;    // room under non-bottom panels so the lowest tick label is not cut

function makePanel(p) {
  const canvas = document.createElement('canvas');
  const right = p.col === 0 ? 622 : 1237;
  const plotLeft = p.col === 0 ? 101 : 714;
  const canvasLeft = Math.round(p.titleX - 9.6);
  const xAxisH = p.last ? 57 : SPARE;
  canvas.width = right - canvasLeft;
  canvas.height = PLOT_H + xAxisH;
  canvas.style.left = canvasLeft + 'px';
  canvas.style.top = p.top + 'px';
  document.getElementById('fig').appendChild(canvas);

  const n = p.datasets.length;
  const datasets = p.datasets.map((d, i) => Object.assign({
    pointRadius: 0, tension: 0, fill: false, order: n - i,
    borderJoinStyle: 'round', borderCapStyle: 'butt'
  }, d));

  const xs = p.col === 0
    ? { min: -100000, max: 2100000, ticks: xTicksLeft, labels: xLabelsLeft }
    : { min: -25000, max: 525000, ticks: xTicksRight, labels: xLabelsRight };

  new Chart(canvas, {
    type: 'line',
    data: { datasets },
    options: {
      responsive: false, animation: false, events: [], normalized: true,
      layout: { padding: 0, autoPadding: false },
      plugins: { legend: { display: false }, tooltip: { enabled: false } },
      scales: {
        x: {
          type: 'linear', min: xs.min, max: xs.max,
          afterBuildTicks: s => { s.ticks = xs.ticks.map(v => ({ value: v })); },
          afterFit: s => { s.height = xAxisH; s.paddingLeft = 0; s.paddingRight = 0; },
          grid: { color: '#fff', lineWidth: 2, drawTicks: false },
          border: { display: false },
          ticks: { display: !!p.last, padding: 17, maxRotation: 0, autoSkip: false,
                   callback: (v, i) => xs.labels[i] },
          title: { display: !!p.last, text: 'Agent Steps', padding: 0, color: '#262626',
                   font: { size: 16 } }
        },
        y: {
          type: 'linear', min: p.yMin, max: p.yMax,
          afterBuildTicks: s => { s.ticks = p.yTicks.map(v => ({ value: v })); },
          afterFit: s => { s.width = plotLeft - canvasLeft; s.paddingTop = 0; s.paddingBottom = 0; },
          grid: { color: '#fff', lineWidth: 2, drawTicks: false },
          border: { display: false },
          ticks: { padding: p.col === 0 ? 20 : 19.5, callback: (v, i) => p.yLabels[i] },
          title: { display: true, text: p.yTitle, padding: 0, color: '#262626', font: { size: 16 } }
        }
      }
    },
    plugins: [plotBg]
  });
}

// ---------- panels
makePanel({
  col: 0, top: 25, titleX: 21.7, yMin: -10.64, yMax: 5.64,
  yTicks: yTicksRewL, yLabels: yLabelsRewL, yTitle: 'Average Reward / Step',
  datasets: [
    ...runs(aLeftSteps, aLRedRuns, RED, 0.5, 1.3),
    ...runs(aLeftSteps, aLGreenRuns, GREEN, 0.5, 1.3),
    ...runs(aLeftSteps, aLCyanRuns, CYAN, 0.5, 1.3),
    ...runs(aLeftSteps, aLPurpleRuns, PURPLE, 0.5, 1.3),
    mean(aLeftSteps, aLRed, RED), mean(aLeftSteps, aLGreen, GREEN),
    mean(aLeftSteps, aLCyan, CYAN), mean(aLeftSteps, aLPurple, PURPLE)
  ]
});
makePanel({
  col: 1, top: 25, titleX: 651, yMin: -2.8, yMax: 57.8,
  yTicks: yTicksRewR, yLabels: yLabelsRewR, yTitle: 'Average Reward / Step',
  datasets: [
    ...runs(aRightSteps, aRRedRuns, RED, 0.5, 1.3),
    ...runs(aRightSteps, aRGreenRuns, GREEN, 0.5, 1.3),
    ...runs(aRightSteps, aRCyanRuns, CYAN, 0.5, 1.3),
    ...runs(aRightSteps, aRPurpleRuns, PURPLE, 0.5, 1.3),
    mean(aRightSteps, aRRed, RED), mean(aRightSteps, aRGreen, GREEN),
    mean(aRightSteps, aRCyan, CYAN), mean(aRightSteps, aRPurple, PURPLE)
  ]
});
makePanel({
  col: 0, top: 307, titleX: 27.7, yMin: -4.26, yMax: 104.7,
  yTicks: yTicksPct, yLabels: yLabelsPct, yTitle: '% Revisited State-Action Pairs',
  datasets: [
    ...runs(bLeftSteps, bLRedRuns, RED, 0.5, 1.3),
    ...runs(bLeftSteps, bLGreenRuns, GREEN, 0.5, 1.3),
    ...runs(bLeftSteps, bLCyanRuns, CYAN, 0.5, 1.3),
    ...runs(bLeftSteps, bLPurpleRuns, PURPLE, 0.5, 1.3),
    mean(bLeftSteps, bLRed, RED), mean(bLeftSteps, bLGreen, GREEN),
    mean(bLeftSteps, bLCyan, CYAN), mean(bLeftSteps, bLPurple, PURPLE)
  ]
});
makePanel({
  col: 1, top: 307, titleX: 641.8, yMin: -4.26, yMax: 104.7,
  yTicks: yTicksPct, yLabels: yLabelsPct, yTitle: '% Revisited State-Action Pairs',
  datasets: [
    ...runs(bRightSteps, bRRedRuns, RED, 0.5, 1.3),
    ...runs(bRightSteps, bRGreenRuns, GREEN, 0.5, 1.3),
    ...runs(bRightSteps, bRCyanRuns, CYAN, 0.5, 1.3),
    ...runs(bRightSteps, bRPurpleRuns, PURPLE, 0.5, 1.3),
    mean(bRightSteps, bRRed, RED), mean(bRightSteps, bRGreen, GREEN),
    mean(bRightSteps, bRCyan, CYAN), mean(bRightSteps, bRPurple, PURPLE)
  ]
});
makePanel({
  col: 0, top: 589, titleX: 54.5, yMin: -0.025, yMax: 3.2,
  yTicks: yTicksDistL, yLabels: yLabelsDistL, yTitle: 'Average Lookup Distance',
  datasets: [
    ...band(cLeftBandSteps, cLRedHi, cLRedLo, RED, 0.85),
    ...runs(cLeftSteps, cLRedRuns, RED, 0.55, 1.2),
    mean(cLeftSpikeSteps, cLRedSpike, RED, 2.5),
    ...band(cLeftBandSteps, cLGreenHi, cLGreenLo, GREEN, 0.8),
    ...runs(cLeftSteps, cLGreenRuns, GREEN, 0.6, 1.2),
    mean(cLeftSpikeSteps, cLGreenSpike, GREEN, 2.5),
    ...band(cLeftBandSteps, cLCyanHi, cLCyanLo, CYAN, 0.85),
    ...runs(cLeftSteps, cLCyanRuns, CYAN, 0.7, 1.2),
    mean(cLeftSpikeSteps, cLCyanSpike, CYAN, 2.5),
    mean(cLPurpleSteps, cLPurple, PURPLE, 2.5)
  ]
});
makePanel({
  col: 1, top: 589, titleX: 667.6, yMin: -0.033, yMax: 4.21,
  yTicks: yTicksDistR, yLabels: yLabelsDistR, yTitle: 'Average Lookup Distance',
  datasets: [
    ...band(cRightBandSteps, cRRedHi, cRRedLo, RED, 0.35),
    ...runs(cRightSteps, cRRedRuns, RED, 0.55, 1.2),
    mean(cRightSteps, cRRed, RED, 3),
    mean(cRightSpikeSteps, cRRedSpike, RED, 3),
    ...band(cRightBandSteps, cRGreenHi, cRGreenLo, GREEN, 0.3),
    ...runs(cRightSteps, cRGreenRuns, GREEN, 0.6, 1.2),
    mean(cRightSteps, cRGreen, GREEN, 3),
    mean(cRightSpikeSteps, cRGreenSpike, GREEN, 3),
    mean(cRCyanSteps, cRCyan, CYAN, 2.5),
    mean(cRPurpleSteps, cRPurple, PURPLE, 2.5)
  ]
});
makePanel({
  col: 0, top: 871, titleX: 27.7, yMin: -5.1, yMax: 103.8, last: true,
  yTicks: yTicksPct, yLabels: yLabelsPct, yTitle: '% Reassigned States',
  datasets: [
    ...runs(dLeftSteps, dLRedRuns, RED, 0.5, 1.5),
    ...runs(dLeftSteps, dLGreenRuns, GREEN, 0.5, 1.5),
    ...runs(dLeftSteps, dLCyanRuns, CYAN, 0.5, 1.5),
    ...runs(dLeftSteps, dLPurpleRuns, PURPLE, 0.5, 1.5),
    mean(dLeftSteps, dLRed, RED, 3.5), mean(dLeftSteps, dLGreen, GREEN, 3.5),
    mean(dLeftSteps, dLCyan, CYAN, 3.5), mean(dLeftSteps, dLPurple, PURPLE, 3.5)
  ]
});
makePanel({
  col: 1, top: 871, titleX: 641.8, yMin: -5.1, yMax: 103.8, last: true,
  yTicks: yTicksPct, yLabels: yLabelsPct, yTitle: '% Reassigned States',
  datasets: [
    ...runs(dRightSteps, dRRedRuns, RED, 0.5, 1.5),
    ...runs(dRightSteps, dRGreenRuns, GREEN, 0.5, 1.5),
    ...runs(dRightSteps, dRCyanRuns, CYAN, 0.5, 1.5),
    ...runs(dRightSteps, dRPurpleRuns, PURPLE, 0.5, 1.5),
    mean(dRightSteps, dRRed, RED, 3.5), mean(dRightSteps, dRGreen, GREEN, 3.5),
    mean(dRightSteps, dRCyan, CYAN, 3.5), mean(dRightSteps, dRPurple, PURPLE, 3.5)
  ]
});

// ---------- legends (top row only)
function fillLegend(id, dims) {
  const colors = [RED, GREEN, CYAN, PURPLE];
  document.getElementById(id).innerHTML = dims.map((d, i) =>
    `<div><span class="sw" style="background:${colors[i]}"></span><i>d</i> = ${d}</div>`).join('');
}
fillLegend('legendL', dimsLeft);
fillLegend('legendR', dimsRight);
</script>
</body>
</html>
